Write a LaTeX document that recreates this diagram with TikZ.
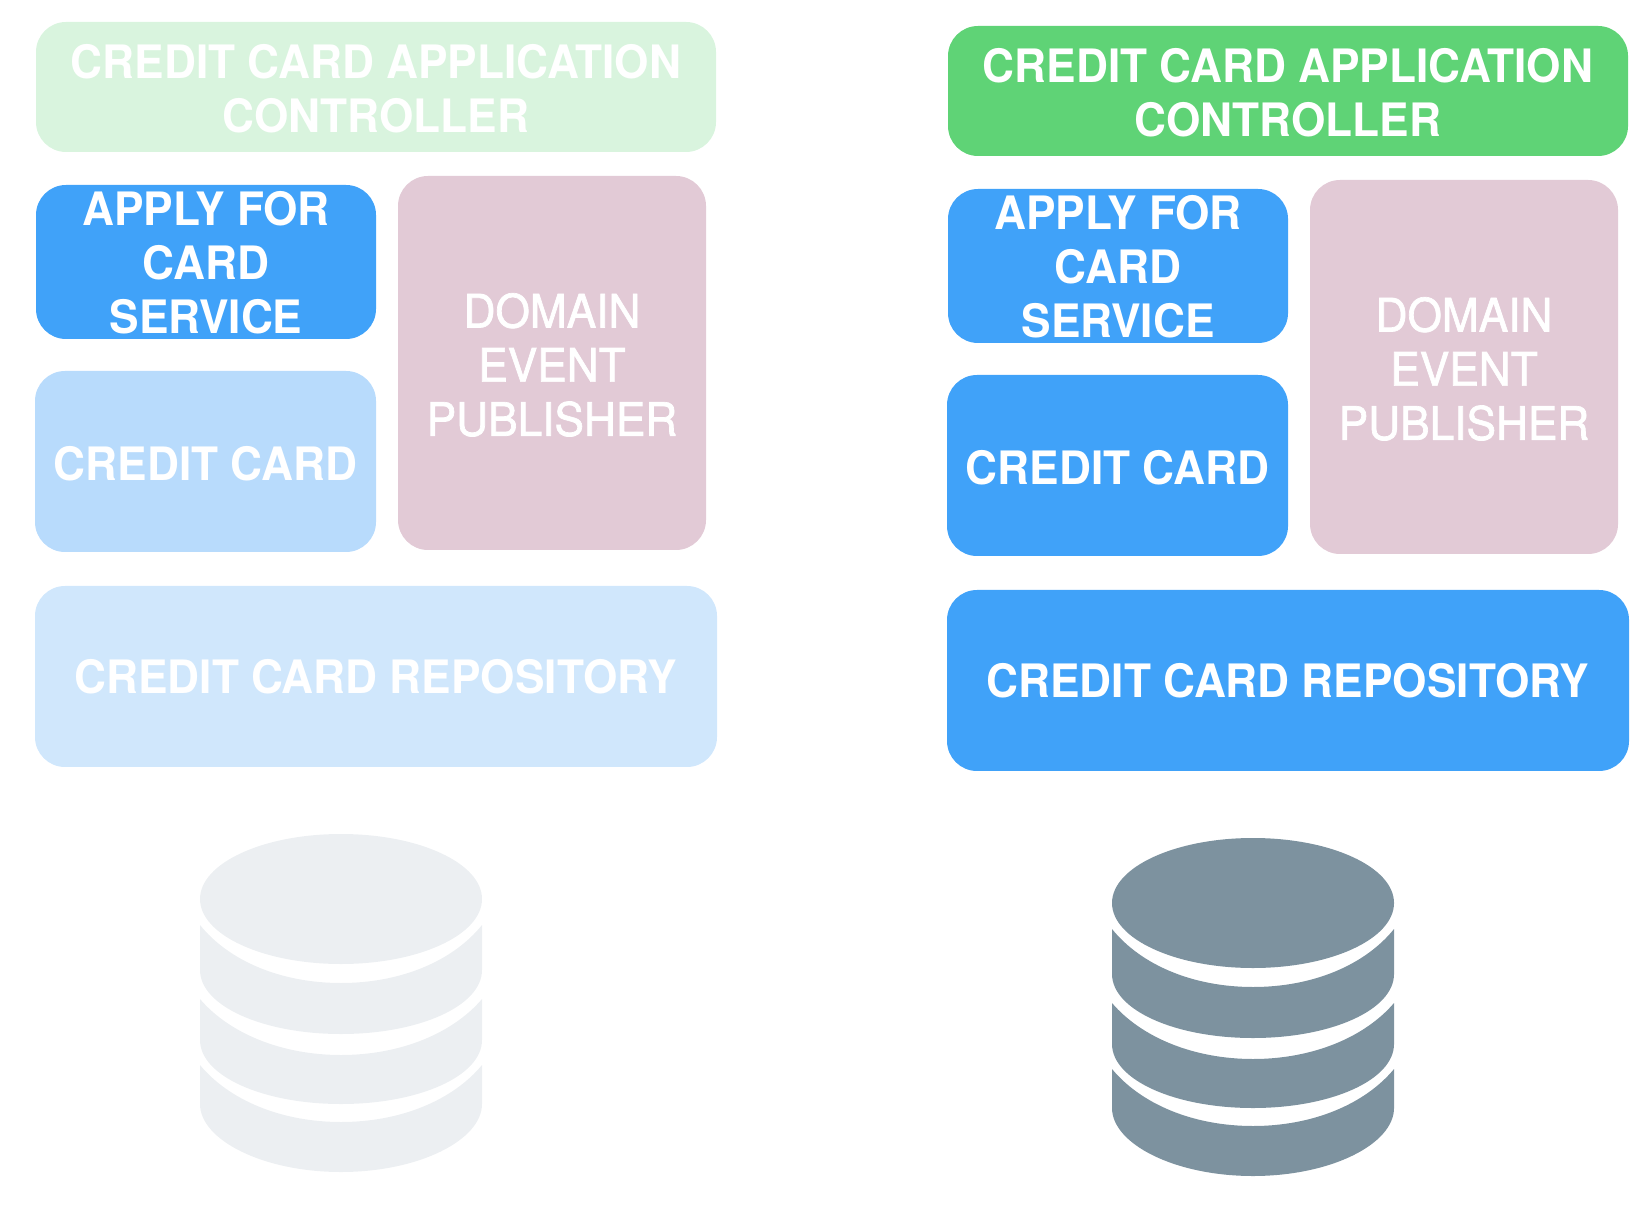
\documentclass[tikz,border=0pt]{standalone}
\usepackage{fontspec}
\setmainfont[FakeStretch=0.96]{TeX Gyre Heros}
\newfontfamily\eventfont[FakeStretch=0.96,FakeBold=1.5]{TeX Gyre Heros}
\usetikzlibrary{positioning}
\definecolor{ctrlgreen}{HTML}{5FD376}
\definecolor{ctrlpale}{HTML}{D9F4DE}
\definecolor{svcblue}{HTML}{40A2F9}
\definecolor{cardpale}{HTML}{B8DBFC}
\definecolor{repopale}{HTML}{D0E7FC}
\definecolor{eventpink}{HTML}{E2CAD6}
\definecolor{dbslate}{HTML}{7D929F}
\definecolor{dbpale}{HTML}{ECEFF2}

\begin{document}
\begin{tikzpicture}[
  x=0.1mm,y=-0.1mm,
  every node/.style={font=\fontsize{13.1}{15.4}\selectfont\bfseries,text=white},
  textdrop/.style={execute at begin node={\rule{0pt}{#1}}},
  box/.style={rounded corners=3mm,inner sep=0pt,outer sep=0pt,align=center},
  wide/.style={box,minimum width=68mm,minimum height=13mm,textdrop=9.25mm},
  service/.style={box,minimum width=34mm,minimum height=15.4mm,textdrop=14.44mm},
  entity/.style={box,minimum width=34.1mm,minimum height=18.1mm,textdrop=3.77mm},
  repo/.style={box,minimum width=68.2mm,minimum height=18.1mm},
  event/.style={box,minimum width=30.8mm,minimum height=37.4mm,fill=eventpink,textdrop=14.64mm,
                font=\eventfont\fontsize{13.1}{15.4}\selectfont},
  dbstack/.pic={
    \fill[pic actions] (0,0) ellipse [x radius=141,y radius=65];
    \foreach \a/\b/\c/\d in {26/84/71/135,100/156/141/205,166/223/205/273}
      \fill[pic actions] (-141,\a) .. controls (-112,{\b-22}) and (-60,\b) .. (0,\b)
        .. controls (60,\b) and (112,{\b-22}) .. (141,\a) -- (141,\c)
        .. controls (141,{\c+36}) and (78,\d) .. (0,\d)
        .. controls (-78,\d) and (-141,{\c+36}) .. (-141,\c) -- cycle;
  }
]
\useasboundingbox (0,0) rectangle (1648,1224);

% faded stack
\node[wide,fill=ctrlpale] (ctrlL) at (376,87) {CREDIT CARD APPLICATION\\CONTROLLER};
\node[service,fill=svcblue,below right=3.3mm and 0mm of ctrlL.south west] (applyL)
 {APPLY FOR\\CARD\\SERVICE};
\node[event,below right=2.4mm and 36.2mm of ctrlL.south west] (eventL)
 {DOMAIN\\EVENT\\PUBLISHER};
\node[entity,fill=cardpale,below right=3.2mm and -0.1mm of applyL.south west] (cardL) {CREDIT CARD};
\node[repo,fill=repopale,below right=3.4mm and 0mm of cardL.south west] (repoL) {CREDIT CARD REPOSITORY};
\pic[fill=dbpale] (dbL) at (341,899) {dbstack};

% full stack
\node[wide,fill=ctrlgreen] (ctrlR) at (1288,91) {CREDIT CARD APPLICATION\\CONTROLLER};
\node[service,fill=svcblue,below right=3.3mm and 0mm of ctrlR.south west] (applyR)
 {APPLY FOR\\CARD\\SERVICE};
\node[event,below right=2.4mm and 36.2mm of ctrlR.south west] (eventR)
 {DOMAIN\\EVENT\\PUBLISHER};
\node[entity,fill=svcblue,below right=3.2mm and -0.1mm of applyR.south west] (cardR) {CREDIT CARD};
\node[repo,fill=svcblue,below right=3.4mm and 0mm of cardR.south west] (repoR) {CREDIT CARD REPOSITORY};
\pic[fill=dbslate] (dbR) at (1253,903) {dbstack};
\end{tikzpicture}
\end{document}
